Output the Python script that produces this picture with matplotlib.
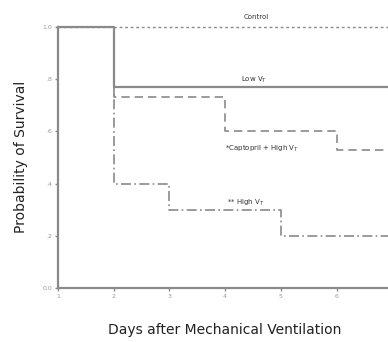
import matplotlib.pyplot as plt

# survival curves (Kaplan-Meier style step data)
control_days = [1, 7]
control_surv = [1.0, 1.0]
low_days = [1, 2, 7]
low_surv = [1.0, 0.77, 0.77]
capt_days = [1, 2, 4, 6, 7]
capt_surv = [1.0, 0.73, 0.60, 0.53, 0.53]
high_days = [1, 2, 3, 5, 7]
high_surv = [1.0, 0.40, 0.30, 0.20, 0.20]

xticks = [1, 2, 3, 4, 5, 6]
yticks = [0.0, 0.2, 0.4, 0.6, 0.8, 1.0]
ytick_labels = ['0.0', '.2', '.4', '.6', '.8', '1.0']

grey = '#8a8a8a'

fig = plt.figure(figsize=(3.88, 3.42), dpi=100)
ax = fig.add_axes([0.149, 0.158, 0.851, 0.763])

ax.step(control_days, control_surv, where='post', color=grey, lw=1.0,
        ls=(0, (2, 2)), clip_on=False)
ax.step(high_days, high_surv, where='post', color=grey, lw=1.2,
        ls=(0, (6, 2, 1, 2)))
ax.step(capt_days, capt_surv, where='post', color=grey, lw=1.2,
        ls=(0, (5, 3)))
ax.step(low_days, low_surv, where='post', color=grey, lw=1.6, clip_on=False)

ax.set_xlim(1, 6.92)
ax.set_ylim(0, 1.0)
ax.set_xticks(xticks)
ax.set_yticks(yticks)
ax.set_yticklabels(ytick_labels)
ax.tick_params(direction='out', length=2, width=1, colors=grey,
               labelsize=4.5, labelcolor='#999999', pad=2)

for s in ['top', 'right']:
    ax.spines[s].set_visible(False)
for s in ['left', 'bottom']:
    ax.spines[s].set_color(grey)
    ax.spines[s].set_linewidth(1.6)

tk = dict(fontsize=5, color='#333333', ha='center')
ax.text(4.56, 1.03, 'Control', **tk)
ax.text(4.52, 0.79, 'Low V$_T$', **tk)
ax.text(4.66, 0.525, '*Captopril + High V$_T$', **tk)
ax.text(4.38, 0.32, '** High V$_T$', **tk)

fig.text(0.055, 0.541, 'Probability of Survival', fontsize=10,
         color='#222222', rotation=90, ha='center', va='center')
fig.text(0.58, 0.035, 'Days after Mechanical Ventilation', fontsize=10,
         color='#222222', ha='center', va='center')

fig.savefig('out.png', dpi=100)
